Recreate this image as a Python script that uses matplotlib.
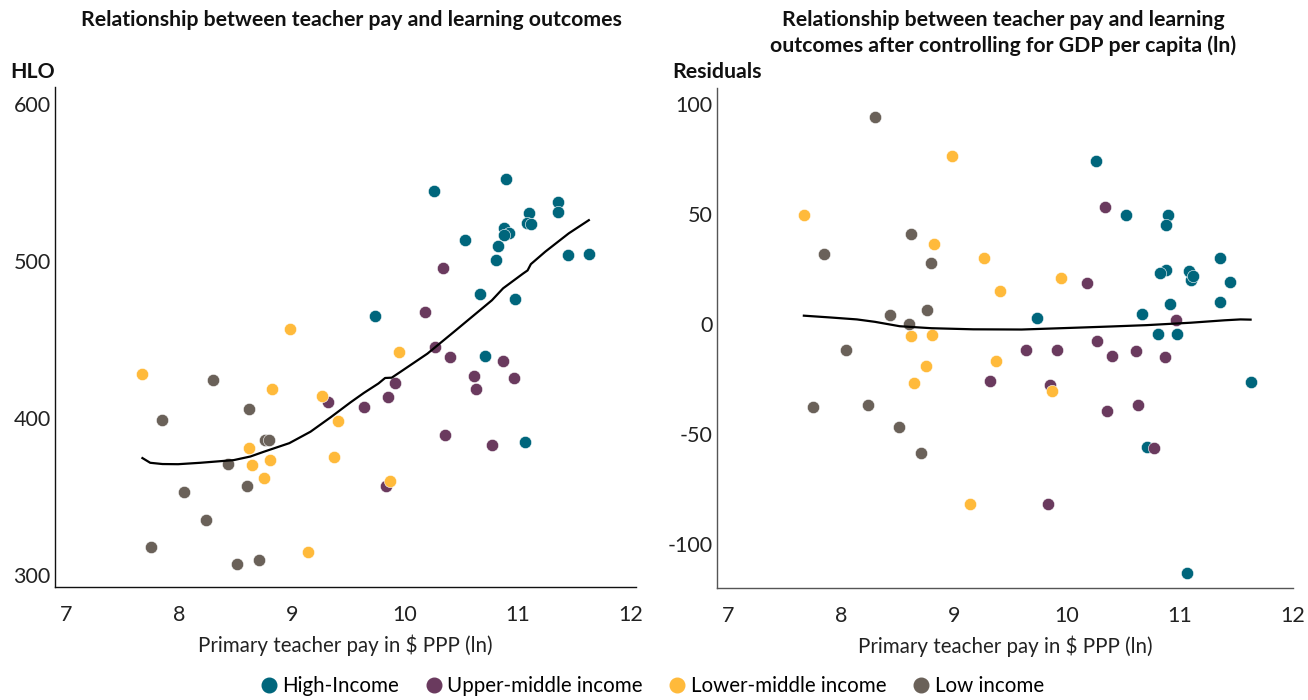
import matplotlib
matplotlib.use('Agg')
import matplotlib.pyplot as plt
from matplotlib.lines import Line2D

plt.rcParams['font.family'] = ['Lato', 'DejaVu Sans']
plt.rcParams['axes.unicode_minus'] = False

# ---- data ----
groups = ['High-Income', 'Upper-middle income', 'Lower-middle income', 'Low income']
colors = ['#00667C', '#6A3A5E', '#FFBA3B', '#6A6159']

# primary teacher pay (ln), HLO, residual after GDP control
high_x = [10.26, 10.90, 10.53, 11.10, 11.08, 11.12, 11.36, 11.36, 10.88, 10.92,
          10.88, 10.83, 10.81, 11.45, 11.63, 9.74, 10.67, 10.98, 10.71, 11.07]
high_hlo = [544.6, 552.2, 513.6, 530.8, 524.4, 523.6, 537.6, 531.2, 521.2, 517.6,
            516.4, 509.4, 500.4, 503.8, 504.7, 465.0, 479.0, 475.8, 439.3, 384.5]
high_res = [74.1, 49.7, 49.5, 20.0, 24.0, 22.0, 30.0, 10.1, 44.9, 9.2,
            24.4, 23.3, -4.5, 19.0, -26.4, 2.6, 4.5, -4.5, -56.0, -113.3]

umid_x = [10.34, 10.18, 9.32, 10.27, 10.40, 10.87, 10.61, 10.97, 10.63, 9.91,
          9.85, 9.64, 10.36, 10.77, 9.83]
umid_hlo = [495.3, 467.3, 410.2, 445.2, 438.7, 436.1, 427.0, 425.7, 418.5, 422.1,
            413.2, 407.0, 389.0, 382.6, 356.7]
umid_res = [53.3, 18.5, -26.0, -7.6, -14.5, -14.8, -12.4, 2.0, -36.7, -11.7,
            -27.7, -12.0, -39.7, -56.2, -81.8]

lmid_x = [7.67, 8.98, 8.82, 9.27, 9.41, 8.62, 9.37, 8.81, 8.65, 8.75, 9.14, 9.95, 9.87]
lmid_hlo = [427.8, 457.0, 418.7, 414.2, 397.9, 380.9, 375.2, 373.2, 370.0, 362.0,
            314.8, 442.0, 359.9]
lmid_res = [49.7, 76.5, 36.5, 29.9, 15.1, -5.5, -17.0, -4.9, -26.8, -19.2,
            -81.8, 20.8, -30.5]

low_x = [8.30, 8.62, 7.85, 8.76, 8.80, 8.43, 8.60, 8.04, 8.24, 7.75, 8.71, 8.51]
low_hlo = [424.4, 405.5, 398.9, 385.8, 385.8, 370.5, 356.7, 352.7, 335.0, 317.8,
           309.4, 306.8]
low_res = [94.0, 40.9, 31.7, 6.4, 27.7, 4.0, -0.1, -11.8, -36.8, -37.6, -58.8, -46.8]

# smoothed fit lines
fit_x = [7.675, 7.744, 7.853, 7.991, 8.188, 8.484, 8.632, 8.750, 8.977, 9.165,
         9.342, 9.520, 9.638, 9.767, 9.826, 9.885, 9.964, 10.201, 10.438, 10.773,
         10.872, 11.049, 11.089, 11.118, 11.247, 11.454, 11.632]
fit_hlo = [374.5, 371.5, 370.7, 370.6, 371.5, 373.2, 375.5, 378.5, 384.0, 391.3,
           400.4, 410.0, 416.0, 422.0, 425.5, 425.7, 429.5, 441.0, 455.0, 475.0,
           482.6, 492.0, 494.0, 498.0, 506.0, 517.6, 526.0]
fitr_x = [7.67, 7.9, 8.14, 8.3, 8.52, 8.8, 9.17, 9.6, 10.12, 10.4, 10.71, 11.1,
          11.4, 11.54, 11.63]
fitr_res = [3.8, 3.0, 2.1, 1.0, -1.0, -1.9, -2.4, -2.5, -1.6, -1.1, -0.5, 0.6,
            1.7, 2.1, 2.0]

xs = [high_x, umid_x, lmid_x, low_x]
hlos = [high_hlo, umid_hlo, lmid_hlo, low_hlo]
ress = [high_res, umid_res, lmid_res, low_res]

fig = plt.figure(figsize=(13.08, 7.0), dpi=100)
ax1 = fig.add_axes([55 / 1308, 113 / 700, 581 / 1308, 500 / 700])
ax2 = fig.add_axes([717 / 1308, 112 / 700, 576 / 1308, 500 / 700])


def style_axes(ax, spine_color):
    for s in ['top', 'right']:
        ax.spines[s].set_visible(False)
    for s in ['left', 'bottom']:
        ax.spines[s].set_color(spine_color)
        ax.spines[s].set_linewidth(1.0)
    ax.tick_params(axis='both', length=0, labelsize=15.5, colors='#222222')
    ax.tick_params(axis='x', pad=13)
    ax.tick_params(axis='y', pad=3)
    ax.set_xticks([7, 8, 9, 10, 11, 12])
    ax.set_xlabel('Primary teacher pay in $ PPP (ln)', fontsize=14.8, color='#222222', labelpad=7)


# left panel
for gx, gy, c in zip(xs, hlos, colors):
    ax1.scatter(gx, gy, s=78, color=c, linewidths=0.4, edgecolors='white', zorder=3)
ax1.plot(fit_x, fit_hlo, color='black', lw=1.6, zorder=4)
ax1.set_xlim(6.9, 12.05)
ax1.set_ylim(292.4, 610.8)
ax1.set_yticks([300, 400, 500, 600])
style_axes(ax1, '#111111')

# right panel
for gx, gy, c in zip(xs, ress, colors):
    ax2.scatter(gx, gy, s=78, color=c, linewidths=0.4, edgecolors='white', zorder=3)
ax2.plot(fitr_x, fitr_res, color='black', lw=1.6, zorder=4)
ax2.set_xlim(6.9, 12.006)
ax2.set_ylim(-120, 107.3)
ax2.set_yticks([-100, -50, 0, 50, 100])
style_axes(ax2, '#555555')

# titles and axis headers
fig.text(351 / 1308, 1 - 20 / 700, 'Relationship between teacher pay and learning outcomes',
         ha='center', va='center', fontsize=15.3, fontweight='bold', color='#111111')
fig.text(1003 / 1308, 1 - 33 / 700,
         'Relationship between teacher pay and learning\noutcomes after controlling for GDP per capita (ln)',
         ha='center', va='center', fontsize=15.3, fontweight='bold', color='#111111',
         linespacing=1.35)
fig.text(10 / 1308, 1 - 72 / 700, 'HLO', ha='left', va='center', fontsize=15.3,
         fontweight='bold', color='#111111')
fig.text(672 / 1308, 1 - 72 / 700, 'Residuals', ha='left', va='center', fontsize=15.3,
         fontweight='bold', color='#111111')

# legend
handles = [Line2D([], [], marker='o', linestyle='', markersize=10.5, color=c) for c in colors]
fig.legend(handles, groups, loc='center', bbox_to_anchor=(651 / 1308, 1 - 686 / 700),
           ncol=4, frameon=False, fontsize=14.8, handletextpad=0.15, columnspacing=1.2,
           handlelength=1.0)

plt.savefig('out.png', dpi=100)
plt.close()
